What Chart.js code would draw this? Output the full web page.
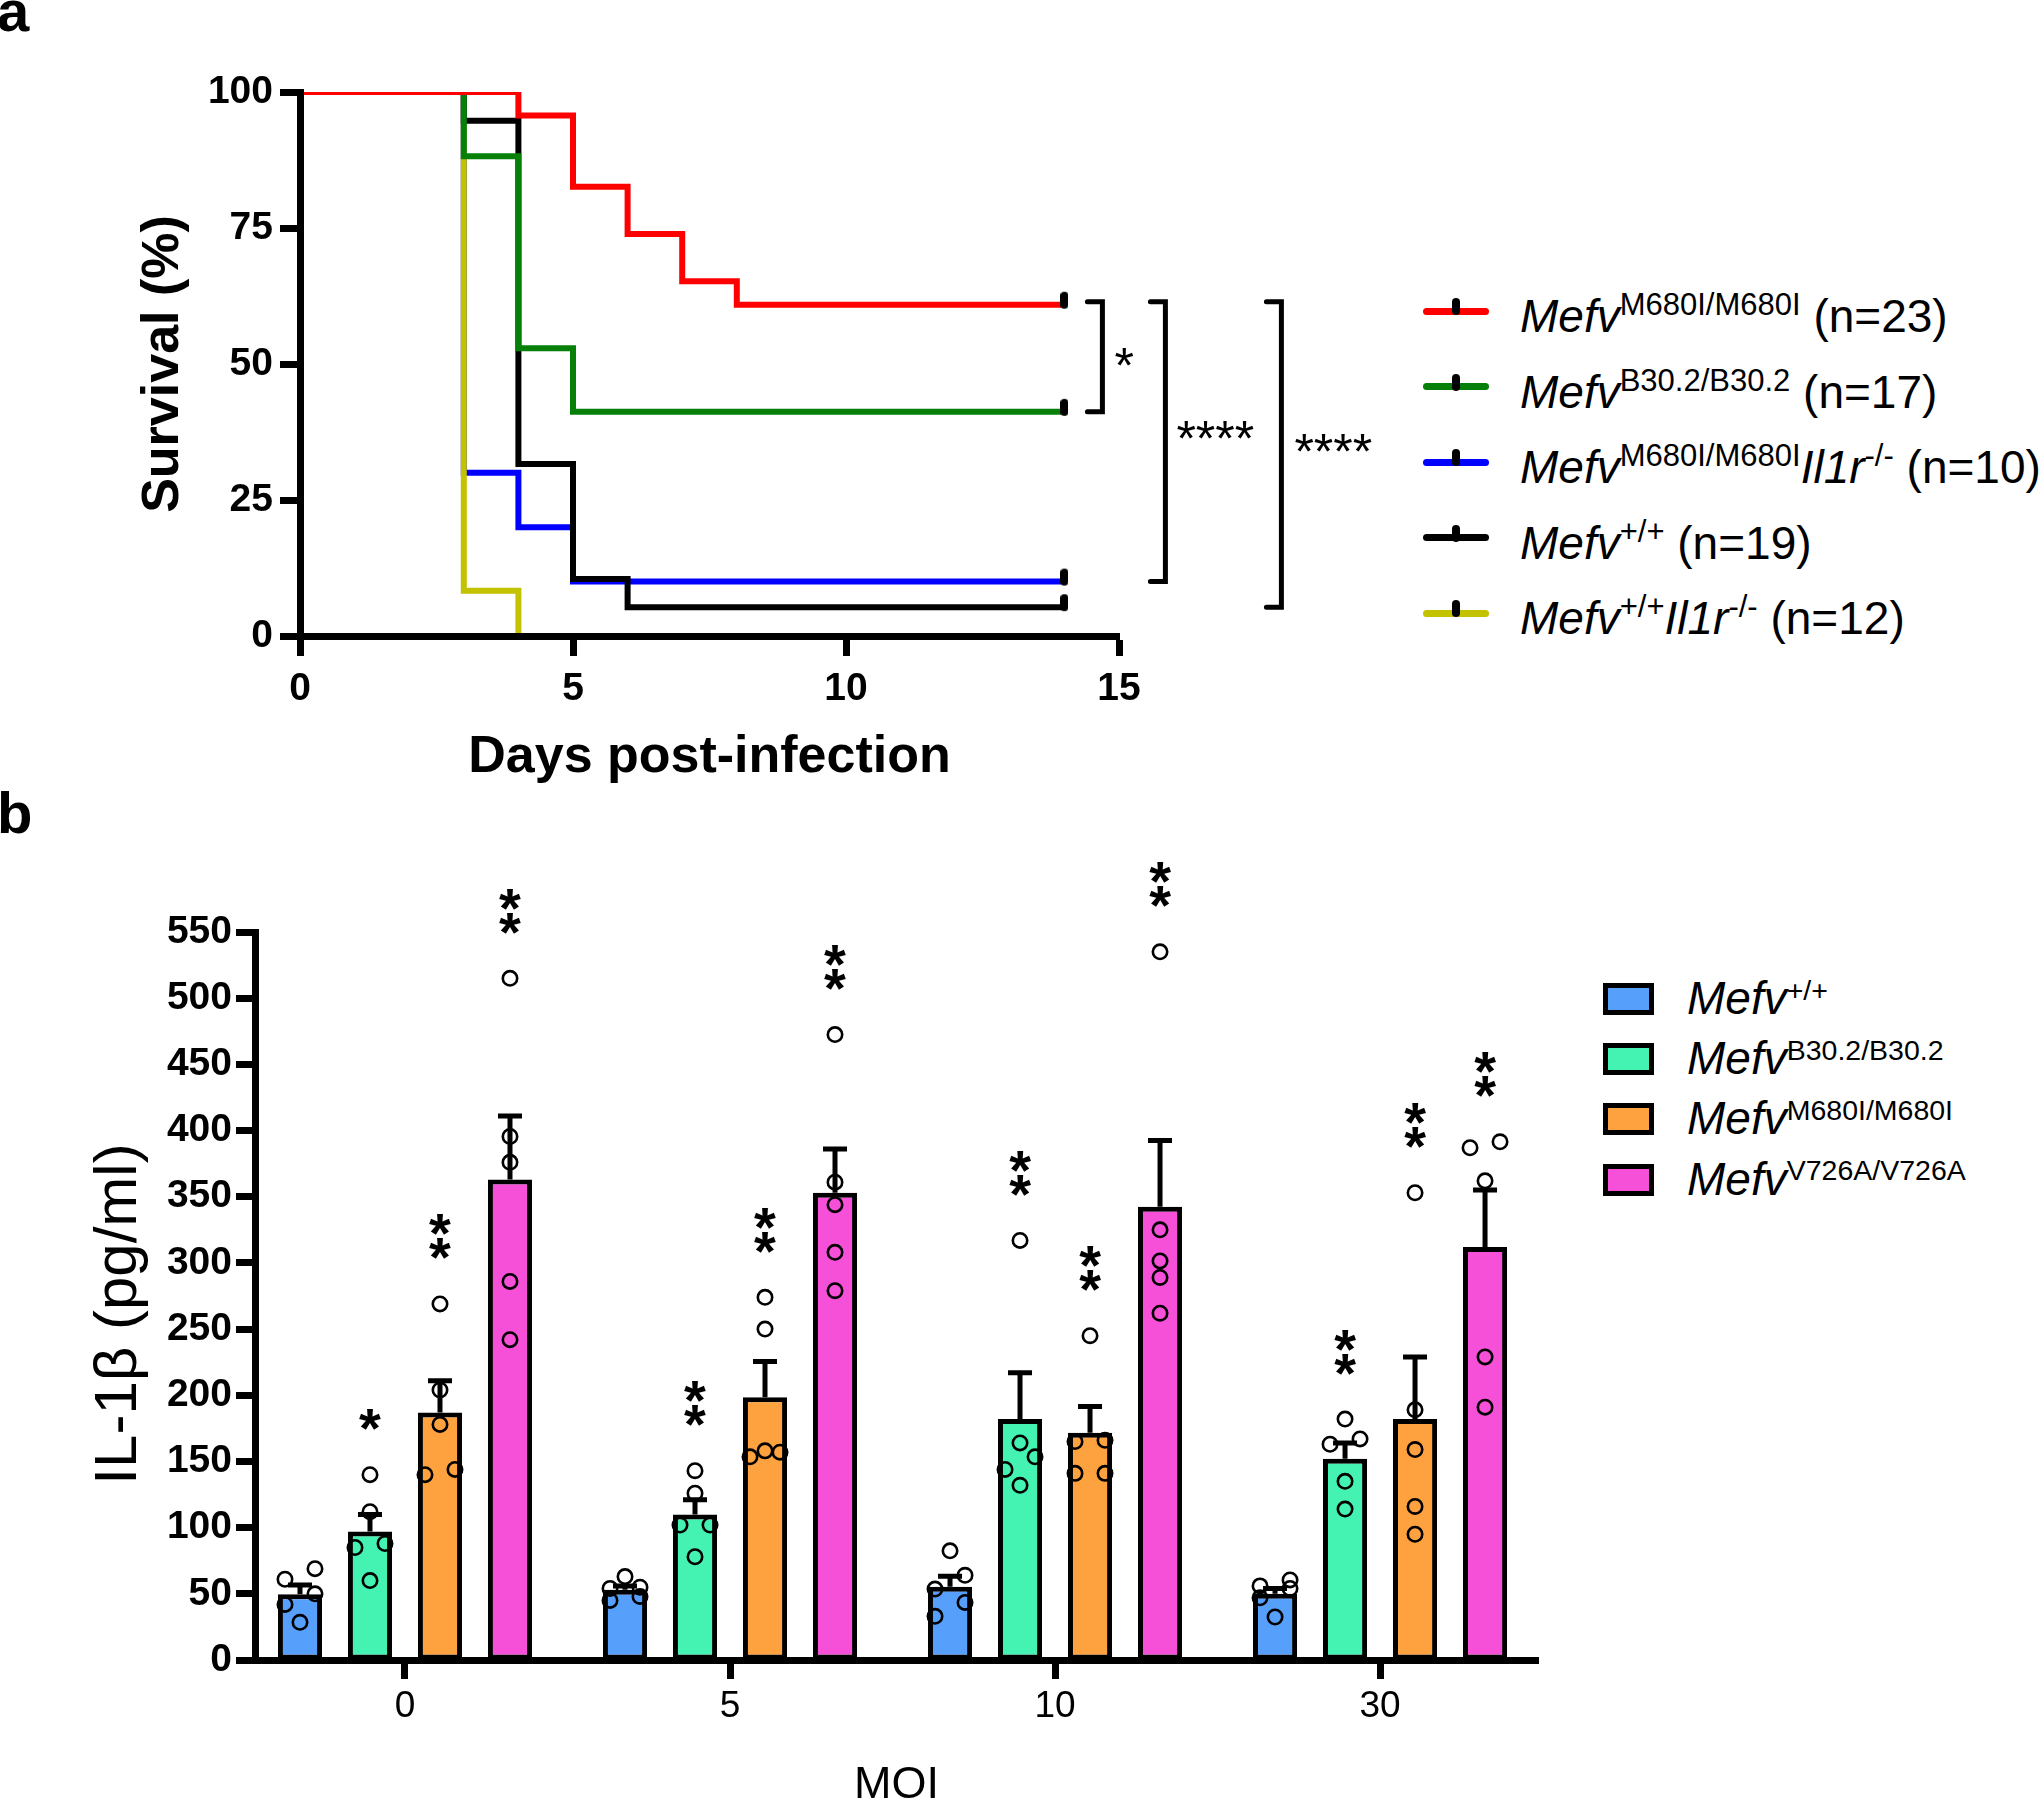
<!DOCTYPE html>
<html>
<head>
<meta charset="utf-8">
<title>Mefv: supervivencia e IL-1β</title>
<script src="https://cdn.jsdelivr.net/npm/chart.js"></script>
<style>
  html, body { margin: 0; padding: 0; background: #fff; width: 2040px; height: 1802px; overflow: hidden; }
  body { position: relative; font-family: Arial, "Liberation Sans", sans-serif; color: #000; }
  canvas { position: absolute; }
  #graficaSupervivencia { left: 0; top: 0; }
  #graficaIL1b { left: 0; top: 850px; }
  .panel { position: absolute; left: -3px; font-weight: bold; font-size: 58px; line-height: 58px; }
  .leyenda { position: absolute; top: 0; }
  .linea { position: absolute; left: 0; width: 66px; height: 7px; border-radius: 3.5px; }
  .marca { position: absolute; left: 29px; width: 8px; height: 17px; border-radius: 4px; background: #000; }
  .caja { position: absolute; left: 0; width: 51px; height: 32px; box-sizing: border-box; border: 5px solid #000; }
  .texto { position: absolute; white-space: nowrap; font-size: 46px; line-height: 46px; }
  .supA { font-size: 31px; position: relative; top: -17px; }
  .supB { font-size: 28.5px; position: relative; top: -14.5px; }
</style>
</head>
<body>
<div class="panel" style="top:-18px">a</div>
<div class="panel" style="top:784px">b</div>
<canvas id="graficaSupervivencia" width="1400" height="800"></canvas>
<div class="leyenda" id="leyendaA" style="left:1423px"></div>
<canvas id="graficaIL1b" width="1560" height="952"></canvas>
<div class="leyenda" id="leyendaB" style="left:1603px"></div>
<script>
var fuente = 'Arial, "Liberation Sans", sans-serif';
Chart.defaults.font.family = fuente;
Chart.defaults.color = '#000';

// ---- Panel a: curvas de supervivencia ----
var diasRojo = [0, 4, 5, 6, 7, 8, 14];
var supRojo = [100, 95.7, 82.6, 73.9, 65.2, 60.9, 60.9];
var diasVerde = [0, 3, 4, 5, 14];
var supVerde = [100, 88.2, 52.9, 41.2, 41.2];
var diasAzul = [0, 3, 4, 5, 14];
var supAzul = [100, 30, 20, 10, 10];
var diasNegro = [0, 3, 4, 5, 6, 14];
var supNegro = [100, 94.7, 31.6, 10.5, 5.3, 5.3];
var diasAmarillo = [0, 3, 4];
var supAmarillo = [100, 8.3, 0];

var alelosA = ['M680I/M680I', 'B30.2/B30.2', 'M680I/M680I', '+/+', '+/+'];
var il1rKO = [false, false, true, false, true];
var nRatones = [23, 17, 10, 19, 12];
var censurado = [true, true, true, true, false];
var coloresA = ['#ff0000', '#07800a', '#0000ff', '#000000', '#c2c200'];
var ordenDibujo = [0, 1, 4, 2, 3]; // rojo encima, azul debajo

// marca de censura (un trazo corto que sube desde la linea)
var marcaCensura = document.createElement('canvas');
marcaCensura.width = 8;
marcaCensura.height = 34;
var mc = marcaCensura.getContext('2d');
mc.fillStyle = '#000';
mc.beginPath();
if (mc.roundRect) { mc.roundRect(0, 4, 8, 17, 4); } else { mc.rect(0, 4, 8, 17); }
mc.fill();

function serieKM(dias, sup, i) {
    var ultimo = dias.length - 1;
    return {
        data: dias.map(function (d, k) { return { x: d, y: sup[k] }; }),
        borderColor: coloresA[i],
        backgroundColor: coloresA[i],
        borderWidth: 6,
        stepped: 'before',
        fill: false,
        order: ordenDibujo[i],
        clip: { left: 6, top: 0, right: 6, bottom: 6 },
        pointStyle: marcaCensura,
        pointRadius: function (ctx) { return (censurado[i] && ctx.dataIndex === ultimo) ? 8 : 0; },
        pointHoverRadius: 0
    };
}

var comparaciones = [
    { de: supRojo, a: supVerde, etiqueta: '*', dx: 38, tx: 12, dy: -3 },
    { de: supRojo, a: supAzul, etiqueta: '****', dx: 101, tx: 11, dy: -15 },
    { de: supRojo, a: supNegro, etiqueta: '****', dx: 217, tx: 13, dy: -14 }
];

var corchetes = {
    id: 'corchetes',
    afterDraw: function (chart) {
        var ctx = chart.ctx, x = chart.scales.x, y = chart.scales.y;
        var x14 = x.getPixelForValue(14);
        ctx.save();
        ctx.strokeStyle = '#000';
        ctx.fillStyle = '#000';
        ctx.lineWidth = 5;
        ctx.lineCap = 'round';
        ctx.font = '50px ' + fuente;
        ctx.textAlign = 'left';
        ctx.textBaseline = 'alphabetic';
        comparaciones.forEach(function (c) {
            var xv = x14 + c.dx;
            var y1 = y.getPixelForValue(c.de[c.de.length - 1]) - 3;
            var y2 = y.getPixelForValue(c.a[c.a.length - 1]);
            ctx.beginPath();
            ctx.moveTo(xv - 15, y1);
            ctx.lineTo(xv, y1);
            ctx.lineTo(xv, y2);
            ctx.lineTo(xv - 15, y2);
            ctx.stroke();
            ctx.fillText(c.etiqueta, xv + c.tx, (y1 + y2) / 2 + c.dy + 0.58 * 50);
        });
        ctx.restore();
    }
};

var graficaSupervivencia = new Chart(document.getElementById('graficaSupervivencia'), {
    type: 'line',
    data: {
        datasets: [
            serieKM(diasRojo, supRojo, 0),
            serieKM(diasVerde, supVerde, 1),
            serieKM(diasAzul, supAzul, 2),
            serieKM(diasNegro, supNegro, 3),
            serieKM(diasAmarillo, supAmarillo, 4)
        ]
    },
    options: {
        responsive: false,
        animation: false,
        events: [],
        layout: { padding: { top: 92, left: 0, right: 281, bottom: 0 } },
        plugins: { legend: { display: false }, tooltip: { enabled: false } },
        scales: {
            x: {
                type: 'linear', min: 0, max: 15,
                ticks: { stepSize: 5, padding: 10, font: { size: 39, weight: 'bold' } },
                grid: { drawOnChartArea: false, drawTicks: true, tickLength: 20, tickWidth: 7, tickColor: '#000' },
                border: { display: true, color: '#000', width: 7, z: 1 },
                title: { display: true, text: 'Days post-infection', font: { size: 52, weight: 'bold' }, padding: { top: 0, bottom: 11 } },
                afterFit: function (s) { s.height = 164; }
            },
            y: {
                min: 0, max: 100,
                ticks: { stepSize: 25, padding: 7, font: { size: 39, weight: 'bold' } },
                grid: { drawOnChartArea: false, drawTicks: true, tickLength: 20, tickWidth: 7, tickColor: '#000' },
                border: { display: true, color: '#000', width: 7, z: 1 },
                title: { display: true, text: 'Survival (%)', font: { size: 52, weight: 'bold' }, padding: { top: 132, bottom: 0 } },
                afterFit: function (s) { s.width = 300; }
            }
        }
    },
    plugins: [corchetes]
});

var leyendaA = document.getElementById('leyendaA');
alelosA.forEach(function (alelo, i) {
    var cy = 311 + i * 75.6;
    var html = '<i>Mefv</i><span class="supA">' + alelo + '</span>';
    if (il1rKO[i]) { html += '<i>Il1r</i><span class="supA">-/-</span>'; }
    html += ' (n=' + nRatones[i] + ')';
    leyendaA.innerHTML +=
        '<div class="linea" style="top:' + (cy - 3.5) + 'px;background:' + coloresA[i] + '"></div>' +
        '<div class="marca" style="top:' + (cy - 13) + 'px"></div>' +
        '<div class="texto" style="left:97px;top:' + (cy - 18) + 'px">' + html + '</div>';
});

// ---- Panel b: IL-1β por MOI ----
var moi = ['0', '5', '10', '30'];
var alelosB = ['+/+', 'B30.2/B30.2', 'M680I/M680I', 'V726A/V726A'];
var coloresB = ['#569ffa', '#44f2b2', '#fea13f', '#f64fd8'];

var mediaWT = [49.6, 53, 55.3, 50];
var mediaB30 = [97, 110, 182, 152];
var mediaM680 = [187, 198.5, 171.6, 182];
var mediaV726 = [363, 353, 342.5, 312];

var semWT = [7, 3, 8, 4];
var semB30 = [13, 11, 35, 12];
var semM680 = [24, 27, 20, 47];
var semV726 = [48, 33, 50, 43];

var puntosWT = [[28.5, 42, 50, 61, 69], [45, 48, 54, 55, 63], [33, 43.5, 53.6, 64, 82.5], [32.5, 47, 54, 56, 60.5]];
var puntosB30 = [[60, 85, 88, 112, 140], [78, 102, 102, 126, 143], [132, 144, 153.5, 164, 317], [114, 135, 163, 167, 182]];
var puntosM680 = [[140, 144, 178, 204, 269], [153.5, 157, 158, 250, 274], [141, 141, 165, 166, 245], [95, 116, 159, 189, 353]];
var puntosV726 = [[242, 286, 376, 395.5, 515], [279, 308, 344, 361, 472.5], [262, 289, 301.5, 325, 535], [191, 229, 362, 387, 391.5]];

var signifWT = ['', '', '', ''];
var signifB30 = ['*', '**', '**', '**'];
var signifM680 = ['**', '**', '**', '**'];
var signifV726 = ['**', '**', '**', '**'];

var medias = [mediaWT, mediaB30, mediaM680, mediaV726];
var sems = [semWT, semB30, semM680, semV726];
var puntos = [puntosWT, puntosB30, puntosM680, puntosV726];
var signif = [signifWT, signifB30, signifM680, signifV726];

// separa horizontalmente los puntos que se solapan (estilo GraphPad)
function esquivar(pys) {
    var grupos = [];
    pys.forEach(function (py, k) {
        if (k > 0 && Math.abs(py - pys[k - 1]) < 15.5) { grupos[grupos.length - 1].push(k); }
        else { grupos.push([k]); }
    });
    var dx = pys.map(function () { return 0; });
    grupos.forEach(function (g) {
        if (g.length === 1) return;
        g.forEach(function (k, m) {
            if (g.length % 2 === 1 && m === g.length - 1) { dx[k] = 0; }
            else { dx[k] = m % 2 === 0 ? -15 : 15; }
        });
    });
    return dx;
}

var extrasBarras = {
    id: 'extrasBarras',
    afterDatasetsDraw: function (chart) {
        var ctx = chart.ctx, y = chart.scales.y;
        ctx.save();
        ctx.strokeStyle = '#000';
        ctx.fillStyle = '#000';
        medias.forEach(function (media, i) {
            chart.getDatasetMeta(i).data.forEach(function (barra, j) {
                // barra de error (SEM, solo hacia arriba)
                var tope = y.getPixelForValue(media[j] + sems[i][j]);
                ctx.lineWidth = 5;
                ctx.lineCap = 'butt';
                ctx.beginPath();
                ctx.moveTo(barra.x, barra.y);
                ctx.lineTo(barra.x, tope);
                ctx.moveTo(barra.x - 12, tope);
                ctx.lineTo(barra.x + 12, tope);
                ctx.stroke();

                // puntos individuales
                var vals = puntos[i][j].slice().sort(function (a, b) { return a - b; });
                var pys = vals.map(function (v) { return y.getPixelForValue(v); });
                var dx = esquivar(pys);
                ctx.lineWidth = 2.6;
                pys.forEach(function (py, k) {
                    ctx.beginPath();
                    ctx.arc(barra.x + dx[k], py, 7.2, 0, Math.PI * 2);
                    ctx.stroke();
                });

                // asteriscos apilados
                var n = signif[i][j].length;
                var base = y.getPixelForValue(vals[vals.length - 1]) - 60;
                ctx.font = 'bold 56px ' + fuente;
                ctx.textAlign = 'center';
                ctx.textBaseline = 'alphabetic';
                for (var k = 0; k < n; k++) {
                    ctx.fillText('*', barra.x, base - k * 24 + 0.58 * 56);
                }
            });
        });
        ctx.restore();
    }
};

// titulo del eje y dibujado a mano para centrarlo como en el original
var tituloY = {
    id: 'tituloY',
    afterDraw: function (chart) {
        var ctx = chart.ctx;
        ctx.save();
        ctx.translate(119, 464);
        ctx.rotate(-Math.PI / 2);
        ctx.font = '60px ' + fuente;
        ctx.fillStyle = '#000';
        ctx.textAlign = 'center';
        ctx.textBaseline = 'middle';
        ctx.fillText('IL-1β (pg/ml)', 0, 0);
        ctx.restore();
    }
};

var graficaIL1b = new Chart(document.getElementById('graficaIL1b'), {
    type: 'bar',
    data: {
        datasets: medias.map(function (media, i) {
            return {
                data: moi.map(function (m, j) { return { x: j, y: media[j] }; }),
                backgroundColor: coloresB[i],
                borderColor: '#000',
                borderWidth: 5,
                borderSkipped: false,
                categoryPercentage: 0.8615,
                barPercentage: 0.63
            };
        })
    },
    options: {
        responsive: false,
        animation: false,
        events: [],
        layout: { padding: { top: 82, left: 0, right: 22, bottom: 0 } },
        plugins: { legend: { display: false }, tooltip: { enabled: false } },
        scales: {
            x: {
                type: 'linear', min: -0.4615, max: 3.486, offset: false,
                afterBuildTicks: function (s) { s.ticks = moi.map(function (m, j) { return { value: j }; }); },
                ticks: { padding: 6, font: { size: 37 }, callback: function (v) { return moi[Math.round(v)]; } },
                grid: { offset: false, drawOnChartArea: false, drawTicks: true, tickLength: 19, tickWidth: 7, tickColor: '#000' },
                border: { display: true, color: '#000', width: 7, z: 1 },
                title: { display: true, text: 'MOI', font: { size: 45, lineHeight: 0.75 }, padding: { top: 0, bottom: 0 } },
                afterFit: function (s) { s.height = 142; }
            },
            y: {
                min: 0, max: 550,
                ticks: { stepSize: 50, padding: 4, font: { size: 39, weight: 'bold' } },
                grid: { drawOnChartArea: false, drawTicks: true, tickLength: 19, tickWidth: 7, tickColor: '#000' },
                border: { display: true, color: '#000', width: 7, z: 1 },
                afterFit: function (s) { s.width = 255; }
            }
        }
    },
    plugins: [extrasBarras, tituloY]
});

var leyendaB = document.getElementById('leyendaB');
alelosB.forEach(function (alelo, i) {
    var cy = 999 + i * 60.2;
    leyendaB.innerHTML +=
        '<div class="caja" style="top:' + (cy - 16) + 'px;background:' + coloresB[i] + '"></div>' +
        '<div class="texto" style="left:84px;top:' + (cy - 24) + 'px"><i>Mefv</i><span class="supB">' + alelo + '</span></div>';
});
</script>
</body>
</html>
